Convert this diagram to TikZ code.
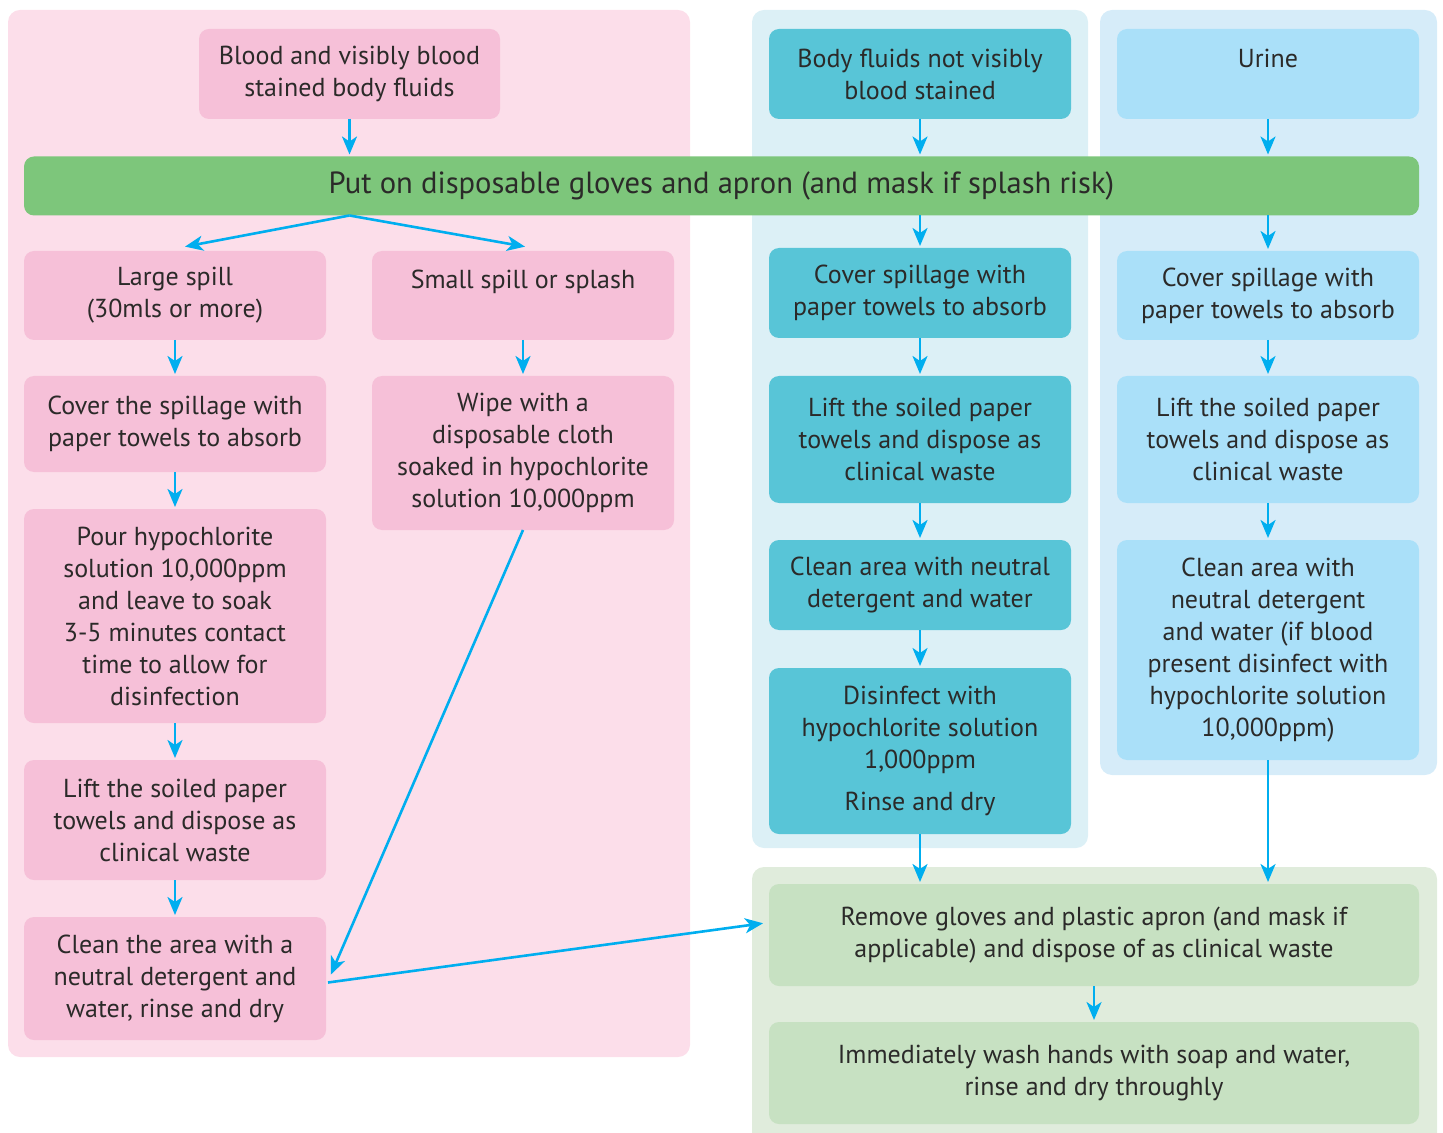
\documentclass[tikz,border=0pt]{standalone}
\usepackage{fontspec}
\setmainfont{PT Sans}
\usepackage{tikz}
\usetikzlibrary{arrows.meta}

\definecolor{pinkpanel}{HTML}{FCDEEA}
\definecolor{pinkfill}{HTML}{F6C0D8}
\definecolor{tealpanel}{HTML}{DCF0F6}
\definecolor{tealfill}{HTML}{58C5D7}
\definecolor{bluepanel}{HTML}{D6ECF9}
\definecolor{bluefill}{HTML}{AAE0F9}
\definecolor{greenbar}{HTML}{7DC67B}
\definecolor{greenpanel}{HTML}{E0ECDC}
\definecolor{greenfill}{HTML}{C7E1C2}
\definecolor{arrowblue}{HTML}{00AEEF}
\definecolor{textgray}{HTML}{2B2A29}

\begin{document}
\begin{tikzpicture}[x=0.5pt,y=-0.5pt]

  %Styles for picture
  \tikzset
  {
  box/.style={rounded corners=5pt, inner sep=0pt, outer sep=0pt, align=center, text=textgray, font=\fontsize{13}{16}\selectfont},
  pinkbox/.style={box, fill=pinkfill, minimum width=151pt},
  tealbox/.style={box, fill=tealfill, minimum width=151pt},
  bluebox/.style={box, fill=bluefill, minimum width=151pt},
  greenbox/.style={box, fill=greenfill, minimum width=325pt, minimum height=51pt},
  flow/.style={-{Stealth[length=9pt,width=7.5pt,inset=2.5pt]}, draw=arrowblue, line width=1.3pt, shorten >=1pt},
  }

  %Panels
  \path[use as bounding box, clip] (0,0) rectangle (1443,1133);
  \fill[pinkpanel, rounded corners=6pt] (8,10) rectangle (690,1057);
  \fill[tealpanel, rounded corners=6pt] (752,10) rectangle (1088,848);
  \fill[bluepanel, rounded corners=6pt] (1100,10) rectangle (1437,775);
  \fill[greenpanel, rounded corners=6pt] (752,867) rectangle (1437,1150);

  %Nodes
  \node[pinkbox, minimum width=150.5pt, minimum height=45pt] (blood) at (349.5,74) {Blood and visibly blood\\stained body fluids};
  \node[tealbox, minimum height=45pt] (bodyfl) at (920,74) {Body fluids not visibly\\blood stained};
  \node[bluebox, minimum height=45pt] (urine) at (1268,74) {Urine\\\mbox{}};
  \node[box, fill=greenbar, minimum width=697.5pt, minimum height=29.5pt, font=\fontsize{15.3}{16}\selectfont] (gloves) at (721.5,186) {Put on disposable gloves and apron (and mask if splash risk)};

  \node[pinkbox, minimum height=44.5pt] (large) at (175,295.5) {Large spill\\(30mls or more)};
  \node[pinkbox, minimum height=44.5pt] (small) at (523,295.5) {Small spill or splash\\\mbox{}};
  \node[pinkbox, minimum height=48pt] (cover1) at (175,424) {Cover the spillage with\\paper towels to absorb};
  \node[pinkbox, minimum height=77pt] (wipe) at (523,453) {Wipe with a\\disposable cloth\\soaked in hypochlorite\\solution 10,000ppm};
  \node[pinkbox, minimum height=107pt] (pour) at (175,616) {Pour hypochlorite\\solution 10,000ppm\\and leave to soak\\3-5 minutes contact\\time to allow for\\disinfection};
  \node[pinkbox, minimum height=60pt] (lift1) at (175,820) {Lift the soiled paper\\towels and dispose as\\clinical waste};
  \node[pinkbox, minimum height=61.5pt] (clean1) at (175,978.5) {Clean the area with a\\neutral detergent and\\water, rinse and dry};

  \node[tealbox, minimum height=45pt] (cover2) at (920,293) {Cover spillage with\\paper towels to absorb};
  \node[tealbox, minimum height=63.5pt] (lift2) at (920,439.5) {Lift the soiled paper\\towels and dispose as\\clinical waste};
  \node[tealbox, minimum height=45pt] (clean2) at (920,585) {Clean area with neutral\\detergent and water};
  \node[tealbox, minimum height=83pt] (disinf) at (920,751) {Disinfect with\\hypochlorite solution\\1,000ppm\\[5pt]Rinse and dry};

  \node[bluebox, minimum height=44.5pt] (cover3) at (1268,295.5) {Cover spillage with\\paper towels to absorb};
  \node[bluebox, minimum height=63.5pt] (lift3) at (1268,439.5) {Lift the soiled paper\\towels and dispose as\\clinical waste};
  \node[bluebox, minimum height=110pt] (clean3) at (1268,650) {Clean area with\\neutral detergent\\and water (if blood\\present disinfect with\\hypochlorite solution\\10,000ppm)};

  \node[greenbox] (remove) at (1094,935) {Remove gloves and plastic apron (and mask if\\applicable) and dispose of as clinical waste};
  \node[greenbox] (wash) at (1094,1073) {Immediately wash hands with soap and water,\\rinse and dry throughly};

  %Edges
  \draw[flow] (blood.south) -- (blood.south |- gloves.north);
  \draw[flow] (bodyfl.south) -- (bodyfl.south |- gloves.north);
  \draw[flow] (urine.south) -- (urine.south |- gloves.north);
  \draw[flow] (blood.south |- gloves.south) -- ([xshift=4pt,yshift=2pt]large.north);
  \draw[flow] (blood.south |- gloves.south) -- ([xshift=2pt,yshift=2pt]small.north);
  \draw[flow] (cover2.north |- gloves.south) -- (cover2.north);
  \draw[flow] (cover3.north |- gloves.south) -- (cover3.north);

  \draw[flow] (large) -- (cover1);
  \draw[flow] (cover1) -- (pour);
  \draw[flow] (pour) -- (lift1);
  \draw[flow] (lift1) -- (clean1);
  \draw[flow] (small) -- (wipe);
  \draw[flow] (wipe.south) -- ([xshift=2pt,yshift=1pt]clean1.east);
  \draw[flow] ([xshift=1pt,yshift=-2pt]clean1.east) -- ([xshift=-2pt,yshift=6pt]remove.west);

  \draw[flow] (cover2) -- (lift2);
  \draw[flow] (lift2) -- (clean2);
  \draw[flow] (clean2) -- (disinf);
  \draw[flow] (disinf.south) -- (disinf.south |- remove.north);

  \draw[flow] (cover3) -- (lift3);
  \draw[flow] (lift3) -- (clean3);
  \draw[flow] (clean3.south) -- (clean3.south |- remove.north);

  \draw[flow] (remove) -- (wash);
\end{tikzpicture}
\end{document}
